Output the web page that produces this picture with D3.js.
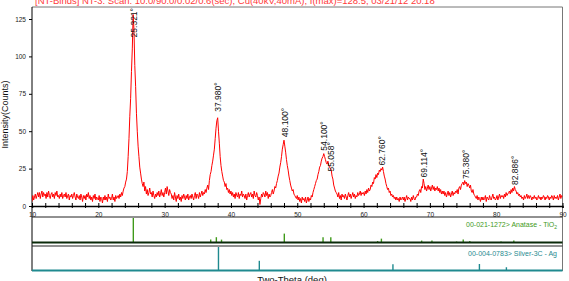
<!DOCTYPE html>
<html>
<head>
<meta charset="utf-8">
<script src="https://cdn.jsdelivr.net/npm/d3@7"></script>
<style>
  body { margin: 0; background: #fff; }
  svg { display: block; font-family: "Liberation Sans", Arial, sans-serif; }
</style>
</head>
<body>
<div id="chart"></div>
<script>
// scan: 10 to 90 deg, one value every 0.125 deg
const scanStart = 10, scanStep = 0.125;
const counts = [
  3, 7, 4, 6, 8, 5, 7, 9,          // 10
  6, 9, 5, 8, 10, 6, 9, 7,         // 11
  8, 5, 9, 6, 10, 7, 5, 8,         // 12
  9, 6, 8, 5, 9, 7, 10, 6,         // 13
  7, 5, 8, 6, 9, 5, 7, 8,          // 14
  6, 9, 5, 7, 8, 4, 7, 6,          // 15
  8, 5, 7, 9, 6, 4, 8, 6,          // 16
  5, 7, 4, 8, 6, 3, 7, 5,          // 17
  7, 4, 8, 6, 9, 5, 7, 4,          // 18
  6, 3, 7, 5, 8, 4, 6, 5,          // 19
  4, 7, 3, 6, 5, 2, 6, 4,          // 20
  7, 4, 6, 3, 8, 5, 6, 4,          // 21
  5, 8, 4, 6, 3, 7, 5, 6,          // 22
  7, 5, 8, 6, 9, 7, 10, 12,        // 23
  13, 16, 18, 23, 33, 45, 60, 72,  // 24
  90, 105, 128, 118, 94, 80, 62, 50, // 25
  40, 33, 26, 22, 18, 15, 13, 16,  // 26
  10, 13, 8, 11, 7, 9, 12, 8,      // 27
  9, 6, 10, 7, 5, 8, 6, 9,         // 28
  7, 10, 6, 8, 11, 7, 9, 6,        // 29
  9, 12, 8, 13, 10, 7, 11, 9,      // 30
  8, 5, 7, 4, 9, 6, 3, 7,          // 31
  5, 8, 4, 6, 3, 7, 5, 8,          // 32
  6, 4, 7, 5, 8, 4, 6, 7,          // 33
  5, 8, 6, 4, 7, 9, 5, 8,          // 34
  7, 5, 9, 6, 8, 10, 7, 9,         // 35
  8, 11, 9, 12, 14, 11, 17, 21,    // 36
  23, 27, 30, 34, 38, 45, 52, 57,  // 37
  59, 50, 42, 33, 27, 23, 20, 17,  // 38
  16, 13, 15, 11, 12, 9, 11, 8,    // 39
  10, 7, 9, 6, 8, 5, 9, 7,         // 40
  6, 9, 5, 8, 7, 10, 6, 8,         // 41
  7, 5, 8, 4, 7, 9, 6, 8,          // 42
  9, 6, 8, 5, 10, 7, 6, 9,         // 43
  7, 4, 6, 1, 5, 8, 6, 9,          // 44
  8, 6, 10, 7, 9, 5, 8, 6,         // 45
  7, 9, 11, 8, 10, 13, 12, 15,     // 46
  17, 20, 22, 26, 29, 33, 38, 41,  // 47
  44, 40, 36, 31, 27, 24, 20, 17,  // 48
  14, 12, 10, 11, 8, 7, 6, 5,      // 49
  7, 4, 6, 3, 5, 2, 6, 4,          // 50
  5, 3, 6, 2, 4, 6, 3, 5,          // 51
  4, 7, 6, 9, 11, 13, 15, 17,      // 52
  18, 21, 23, 26, 27, 30, 32, 33,  // 53
  35, 33, 31, 29, 28, 30, 27, 26,  // 54
  25, 24, 20, 18, 14, 12, 10, 9,   // 55
  8, 6, 9, 5, 7, 4, 8, 6,          // 56
  7, 5, 8, 6, 4, 7, 9, 6,          // 57
  8, 5, 7, 9, 6, 8, 5, 7,          // 58
  6, 9, 7, 8, 10, 7, 9, 8,         // 59
  9, 7, 10, 8, 11, 9, 12, 10,      // 60
  11, 14, 13, 16, 15, 19, 18, 21,  // 61
  19, 22, 21, 24, 23, 25, 24, 26,  // 62
  23, 20, 18, 15, 13, 11, 12, 9,   // 63
  10, 7, 8, 6, 7, 5, 6, 4,         // 64
  6, 4, 5, 3, 6, 4, 5, 6,          // 65
  4, 6, 3, 5, 7, 4, 6, 5,          // 66
  5, 3, 6, 4, 7, 5, 4, 6,          // 67
  6, 8, 7, 10, 11, 9, 13, 12,      // 68
  18, 15, 11, 13, 10, 12, 14, 11,  // 69
  13, 10, 12, 14, 11, 13, 10, 12,  // 70
  11, 13, 10, 12, 9, 11, 8, 10,    // 71
  8, 10, 7, 9, 6, 8, 10, 7,        // 72
  9, 6, 8, 10, 7, 9, 8, 10,        // 73
  9, 11, 8, 12, 13, 11, 14, 15,    // 74
  16, 14, 17, 15, 16, 13, 15, 14,  // 75
  12, 14, 10, 9, 11, 8, 7, 6,      // 76
  5, 7, 4, 6, 5, 3, 6, 4,          // 77
  6, 4, 5, 7, 3, 6, 5, 4,          // 78
  7, 5, 4, 6, 8, 5, 6, 4,          // 79
  5, 7, 4, 6, 8, 5, 7, 6,          // 80
  7, 5, 8, 6, 9, 7, 8, 9,          // 81
  10, 8, 11, 9, 12, 10, 13, 11,    // 82
  10, 8, 9, 7, 8, 6, 7, 5,         // 83
  6, 4, 7, 5, 6, 8, 5, 7,          // 84
  5, 7, 6, 4, 6, 5, 7, 5,          // 85
  6, 4, 5, 7, 5, 6, 4, 6,          // 86
  5, 7, 6, 4, 6, 5, 7, 6,          // 87
  4, 6, 5, 7, 6, 4, 7, 5,          // 88
  6, 5, 7, 4, 6, 8, 5, 7,          // 89
  6                                // 90
];

// labelled peaks
const peakPos    = [25.321, 37.980, 48.100, 54.100, 55.058, 62.760, 69.114, 75.380, 82.886];
const peakText   = ["25.321°", "37.980°", "48.100°", "54.100°", "55.058°", "62.760°", "69.114°", "75.380°", "82.886°"];
const peakCounts = [128, 63, 46, 37, 23, 27, 19, 18, 14];

// reference cards
const anatasePos = [25.28, 36.95, 37.80, 38.58, 48.05, 53.89, 55.06, 62.12, 62.69, 68.76, 70.31, 74.03, 75.03, 76.02, 80.73, 82.66];
const anataseRel = [100, 10, 20, 10, 35, 20, 20, 4, 14, 6, 6, 2, 10, 4, 2, 6];
const silverPos  = [38.12, 44.28, 64.43, 77.47, 81.54];
const silverRel  = [100, 40, 25, 26, 12];

const yTicks = [0, 25, 50, 75, 100, 125];
const xTicks = d3.range(10, 91, 2);
const xLabels = [10, 20, 30, 40, 50, 60, 70, 80, 90];

// =====================
// SETUP
// =====================
const W = 569, H = 281;
const plotLeft = 32, plotRight = 562.5, plotTop = 7, plotBottom = 206;
const p1 = { top: 217, bottom: 243 }, p2 = { top: 246, bottom: 271 };

const svg = d3.select("#chart").append("svg")
  .attr("width", W).attr("height", H);

const x = d3.scaleLinear().domain([10, 90]).range([plotLeft, plotRight]);
const y = d3.scaleLinear().domain([0, 125]).range([plotBottom, 19]);

svg.append("clipPath").attr("id", "clip")
  .append("rect")
  .attr("x", plotLeft).attr("y", plotTop)
  .attr("width", plotRight - plotLeft).attr("height", plotBottom - plotTop);

// title line (cut off at the top, like the original)
svg.append("text")
  .attr("x", 35).attr("y", 4)
  .attr("fill", "#ff3a3a")
  .style("font-size", "9.5px")
  .text("[NT-Binds] NT-3: Scan: 10.0/90.0/0.02/0.6(sec), Cu(40kV,40mA), I(max)=128.5, 03/21/12 20:18");

// frame
svg.append("path")
  .attr("d", `M${plotLeft},${plotTop}H${plotRight}V${p2.bottom}`)
  .attr("fill", "none").attr("stroke", "#777").attr("stroke-width", 1);
svg.append("line")
  .attr("x1", plotLeft).attr("x2", plotLeft).attr("y1", plotTop).attr("y2", p2.bottom)
  .attr("stroke", "#000");

// =====================
// PATTERN
// =====================
const line = d3.line()
  .x((d, i) => x(scanStart + i * scanStep))
  .y(d => y(d));

svg.append("path")
  .datum(counts)
  .attr("clip-path", "url(#clip)")
  .attr("fill", "none")
  .attr("stroke", "#ff0000")
  .attr("stroke-width", 1)
  .attr("d", line);

// =====================
// AXES
// =====================
const yAxis = svg.append("g")
  .attr("transform", `translate(${plotLeft},0)`)
  .call(d3.axisLeft(y).tickValues(yTicks).tickSize(3).tickPadding(3));
yAxis.select(".domain").remove();
yAxis.selectAll("text").style("font-size", "6.5px").attr("fill", "#222");

const xAxis = svg.append("g")
  .attr("transform", `translate(0,${plotBottom})`)
  .call(d3.axisBottom(x).tickValues(xTicks).tickSize(2).tickPadding(4)
    .tickFormat(d => xLabels.includes(d) ? d : ""));
xAxis.select(".domain").attr("stroke-width", 1.5);
xAxis.selectAll(".tick line").attr("y1", -3);
xAxis.selectAll("text").style("font-size", "6.5px").attr("fill", "#222");

svg.append("text")
  .attr("transform", `translate(8,${(plotTop + plotBottom) / 2 + 8}) rotate(-90)`)
  .attr("text-anchor", "middle")
  .style("font-size", "9px")
  .attr("fill", "#111")
  .text("Intensity(Counts)");

svg.append("text")
  .attr("x", 292).attr("y", 283)
  .attr("text-anchor", "middle")
  .style("font-size", "9.5px")
  .attr("fill", "#111")
  .text("Two-Theta (deg)");

// =====================
// PEAK LABELS
// =====================
svg.selectAll(".peak-label")
  .data(peakPos)
  .join("text")
  .attr("class", "peak-label")
  .style("font-size", "8.5px")
  .attr("fill", "#111")
  .text((d, i) => peakText[i])
  .each(function (d, i) {
    const len = this.getComputedTextLength();
    const yy = Math.max(y(peakCounts[i]), plotTop + len + 1);
    d3.select(this).attr("transform", `translate(${x(d) + 3},${yy}) rotate(-90)`);
  });

// =====================
// REFERENCE PANELS
// =====================
function drawCard(panel, pos, rel, color, label, sub) {
  const h = d3.scaleLinear().domain([0, 100]).range([panel.bottom - 1, panel.top + 1]);
  svg.append("line")
    .attr("x1", plotLeft).attr("x2", plotRight).attr("y1", panel.top).attr("y2", panel.top)
    .attr("stroke", "#222");
  svg.selectAll(null)
    .data(pos)
    .join("line")
    .attr("x1", d => x(d)).attr("x2", d => x(d))
    .attr("y1", h(0)).attr("y2", (d, i) => h(rel[i]))
    .attr("stroke", color).attr("stroke-width", 1.4);
  svg.append("line")
    .attr("x1", plotLeft).attr("x2", plotRight).attr("y1", panel.bottom - 0.5).attr("y2", panel.bottom - 0.5)
    .attr("stroke", panel === p1 ? "#0a2a0a" : color).attr("stroke-width", 2);
  const t = svg.append("text")
    .attr("x", 557).attr("y", panel.top + 10)
    .attr("text-anchor", "end")
    .style("font-size", "7px")
    .attr("fill", color)
    .text(label);
  if (sub) t.append("tspan").attr("dy", 2).style("font-size", "5px").text(sub);
}

drawCard(p1, anatasePos, anataseRel, "#3f9a1a", "00-021-1272> Anatase - TiO", "2");
drawCard(p2, silverPos, silverRel, "#1f8a8f", "00-004-0783> Silver-3C - Ag", null);
</script>
</body>
</html>
